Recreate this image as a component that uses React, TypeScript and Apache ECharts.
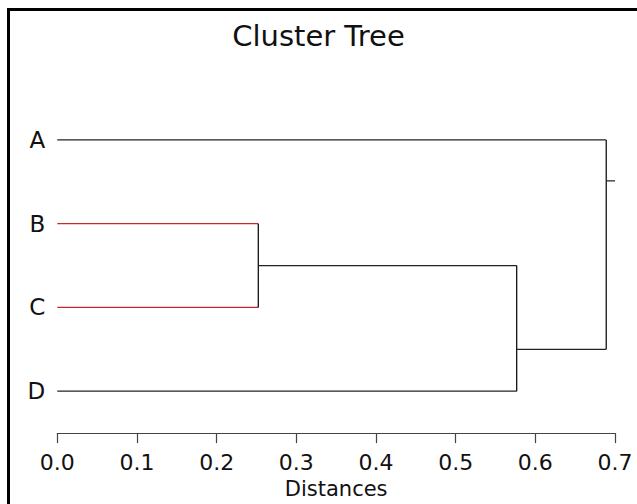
import React, { useEffect, useRef } from "react";
import * as echarts from "echarts";

// ---- data ----
const leaves = ["A", "B", "C", "D"];
const leafRows = [0, 1, 2, 3];
// merge (node) heights on the distance axis: B+C, (BC)+D, A+(BCD)
const mergeHeights = [0.2523, 0.5766, 0.689];
// row at which each node's outgoing branch leaves
const mergeRows = [1.5, 2.5, 0.49];
// node each leaf joins
const leafParent = [2, 0, 0, 1];
// node each merge joins (-1 = root)
const mergeParent = [1, 2, -1];
const rootStubEnd = 0.7;
const leafColors = ["#222222", "#c8282a", "#c8282a", "#222222"];
const xTicks = [0, 0.1, 0.2, 0.3, 0.4, 0.5, 0.6, 0.7];

const FONT = "DejaVu Sans";

export default function App() {
  const ref = useRef<HTMLDivElement>(null);
  useEffect(() => {
    if (!ref.current) return;
    const chart = echarts.init(ref.current, null, { renderer: "svg" });

    const seg = (pts: number[][], color: string) => ({
      type: "line",
      xAxisIndex: 0,
      yAxisIndex: 1,
      data: pts,
      showSymbol: false,
      symbol: "none",
      silent: true,
      lineStyle: { color, width: 1.3 },
      z: 3,
    });

    const series: any[] = [];
    // leaf branches
    leaves.forEach((_, i) => {
      const h = mergeHeights[leafParent[i]];
      series.push(seg([[0, leafRows[i]], [h, leafRows[i]]], leafColors[i]));
    });
    // vertical joins and outgoing branches
    mergeHeights.forEach((h, m) => {
      const childRows: number[] = [];
      leafParent.forEach((p, i) => { if (p === m) childRows.push(leafRows[i]); });
      mergeParent.forEach((p, j) => { if (p === m) childRows.push(mergeRows[j]); });
      const lo = Math.min(...childRows);
      const hi = Math.max(...childRows);
      series.push(seg([[h, lo], [h, hi]], "#111111"));
      const parent = mergeParent[m];
      const end = parent >= 0 ? mergeHeights[parent] : rootStubEnd;
      series.push(seg([[h, mergeRows[m]], [end, mergeRows[m]]], "#222222"));
    });

    chart.setOption({
      animation: false,
      backgroundColor: "#ffffff",
      title: {
        text: "Cluster Tree",
        left: "center",
        top: 16,
        textStyle: { fontFamily: FONT, fontSize: 29, fontWeight: "normal", color: "#111" },
      },
      graphic: [
        { type: "line", shape: { x1: 7, y1: 9.5, x2: 640, y2: 9.5 }, style: { stroke: "#000", lineWidth: 3 } },
        { type: "line", shape: { x1: 8.5, y1: 8, x2: 8.5, y2: 510 }, style: { stroke: "#000", lineWidth: 3 } },
      ],
      grid: { left: 57.3, right: 22, top: 98, bottom: 64, containLabel: false },
      xAxis: {
        type: "value",
        min: 0,
        max: 0.7,
        interval: 0.1,
        splitLine: { show: false },
        axisLine: { show: true, onZero: false, lineStyle: { color: "#444", width: 1.2 } },
        axisTick: { show: true, length: 10, lineStyle: { color: "#444", width: 1.2 } },
        axisLabel: {
          fontFamily: FONT,
          fontSize: 22,
          color: "#111",
          margin: 18,
          formatter: (v: number) => (xTicks.some((t) => Math.abs(t - v) < 1e-9) ? v.toFixed(1) : ""),
        },
        name: "Distances",
        nameLocation: "middle",
        nameGap: 43,
        nameTextStyle: { fontFamily: FONT, fontSize: 21, color: "#111" },
      },
      yAxis: [
        {
          type: "category",
          data: leaves,
          inverse: true,
          axisLine: { show: false },
          axisTick: { show: false },
          splitLine: { show: false },
          axisLabel: { fontFamily: FONT, fontSize: 23, color: "#111", margin: 12 },
        },
        {
          type: "value",
          min: -0.5,
          max: 3.5,
          inverse: true,
          show: false,
          splitLine: { show: false },
        },
      ],
      series,
    });
    return () => chart.dispose();
  }, []);
  return (
    <div
      ref={ref}
      style={{ position: "fixed", left: 0, top: 0, width: 637, height: 504, background: "#fff" }}
    />
  );
}
